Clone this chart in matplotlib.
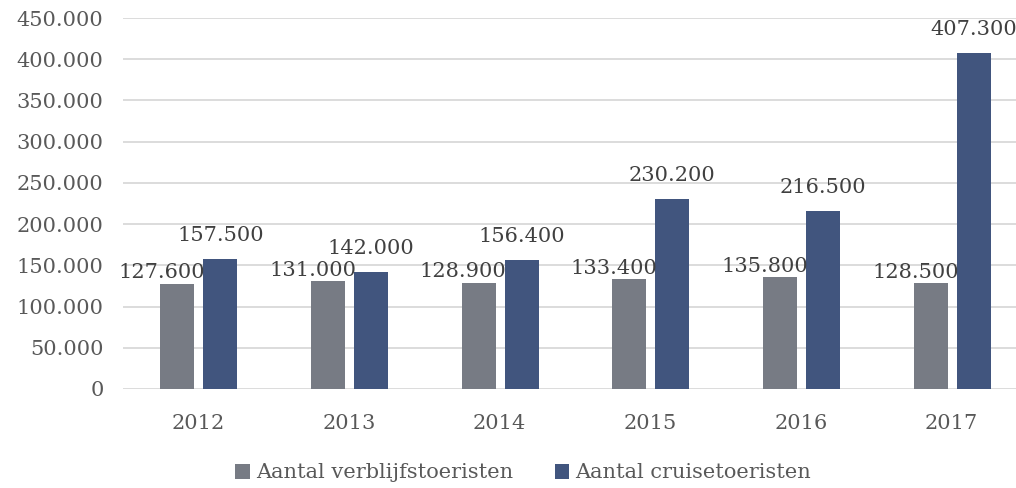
import matplotlib.pyplot as plt
import numpy as np

years = ['2012', '2013', '2014', '2015', '2016', '2017']
verblijf = [127600, 131000, 128900, 133400, 135800, 128500]
cruise = [157500, 142000, 156400, 230200, 216500, 407300]
yticks = [0, 50000, 100000, 150000, 200000, 250000, 300000, 350000, 400000, 450000]

def fmt(v):
    return f'{v:,}'.replace(',', '.')

plt.rcParams['font.family'] = ['DejaVu Serif']
txt = '#595959'
gray = '#777b84'
blue = '#41557e'

fig = plt.figure(figsize=(10.16, 4.88), dpi=100)
ax = fig.add_axes([123 / 1016, 99 / 488, 904 / 1016, 371 / 488])

x = np.arange(len(years))
w = 0.226
ax.bar(x - 0.14, verblijf, w, color=gray, label='Aantal verblijfstoeristen', zorder=3)
ax.bar(x + 0.146, cruise, w, color=blue, label='Aantal cruisetoeristen', zorder=3)

for i in range(len(years)):
    ax.annotate(fmt(verblijf[i]), (x[i] - 0.14, verblijf[i]), xytext=(-11, 1),
                textcoords='offset points', ha='center', va='bottom',
                fontsize=15, color='#404040', zorder=4)
    ax.annotate(fmt(cruise[i]), (x[i] + 0.146, cruise[i]), xytext=(0, 10),
                textcoords='offset points', ha='center', va='bottom',
                fontsize=15, color='#404040', zorder=4)

ax.set_xlim(-0.5, 5.5)
ax.set_ylim(0, 450000)
ax.set_yticks(yticks)
ax.set_yticklabels([fmt(v) for v in yticks])
ax.set_xticks(x)
ax.set_xticklabels(years)
ax.grid(axis='y', color='#d9d9d9', linewidth=1.3, zorder=0)
for s in ax.spines.values():
    s.set_visible(False)
ax.tick_params(axis='y', length=0, pad=14, labelsize=15, labelcolor=txt)
ax.tick_params(axis='x', length=0, pad=18, labelsize=15, labelcolor=txt)

fig.legend(loc='center', bbox_to_anchor=(0.515, 15 / 488), ncol=2, frameon=False,
           fontsize=15, labelcolor=txt, handlelength=0.7, handleheight=0.7,
           handletextpad=0.3, columnspacing=2.0)

fig.savefig('out.png', dpi=100)
